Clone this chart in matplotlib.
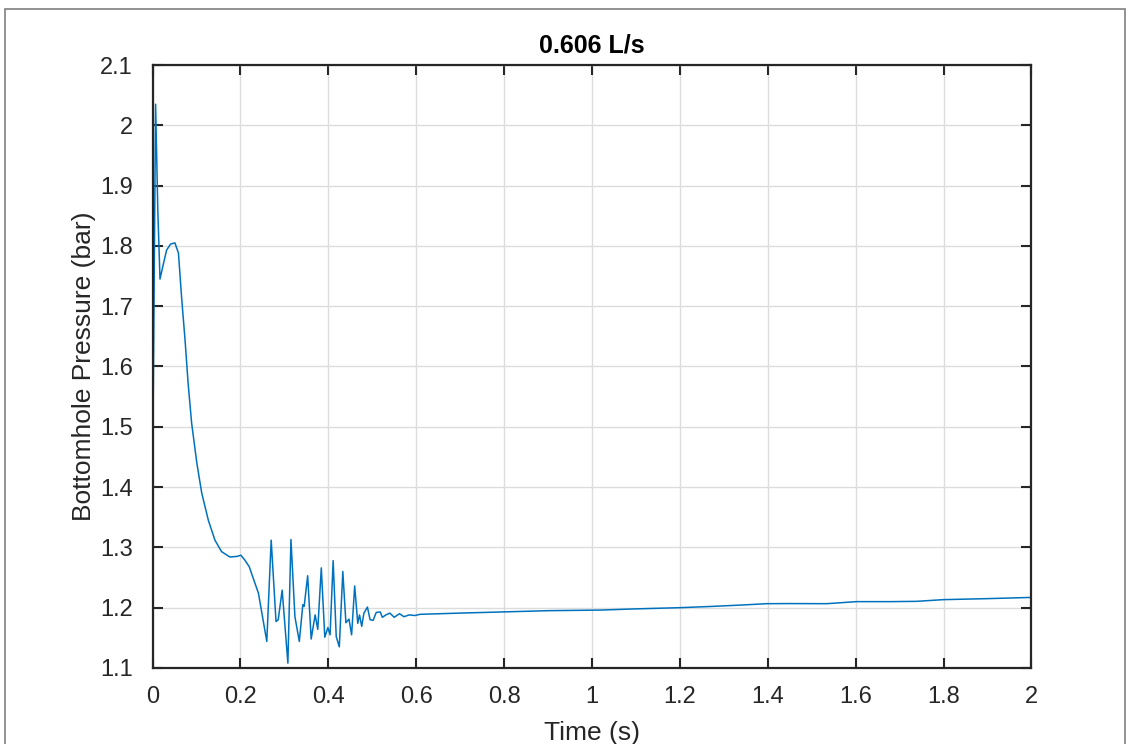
import matplotlib
matplotlib.use('Agg')
import matplotlib.pyplot as plt
from matplotlib.patches import Rectangle

# bottomhole pressure trace
time_s = [0.0, 0.0, 0.007, 0.012, 0.017, 0.025, 0.032, 0.041, 0.051, 0.059, 0.066,
          0.074, 0.081, 0.089, 0.101, 0.112, 0.127, 0.142, 0.157, 0.176, 0.192,
          0.201, 0.210, 0.220, 0.241,
          0.260, 0.270, 0.281, 0.286, 0.295, 0.308, 0.315, 0.324, 0.334, 0.342,
          0.345, 0.353, 0.361, 0.370, 0.376, 0.384, 0.392, 0.399, 0.404, 0.411,
          0.418, 0.425, 0.433, 0.440, 0.447, 0.453, 0.460, 0.467, 0.471, 0.476,
          0.481, 0.489, 0.495, 0.502, 0.509, 0.518, 0.523, 0.531, 0.540, 0.550,
          0.562, 0.572, 0.584, 0.597, 0.609, 0.70, 0.80, 0.90, 1.018, 1.10,
          1.20, 1.27, 1.344, 1.397, 1.45, 1.534, 1.602, 1.68, 1.739, 1.799,
          1.90, 2.0]
pressure_bar = [1.375, 1.40, 2.035, 1.86, 1.745, 1.771, 1.793, 1.803, 1.805, 1.788, 1.716,
                1.644, 1.572, 1.506, 1.439, 1.390, 1.345, 1.312, 1.293, 1.284, 1.285,
                1.287, 1.279, 1.268, 1.224,
                1.144, 1.312, 1.177, 1.180, 1.229, 1.108, 1.313, 1.185, 1.144, 1.205,
                1.202, 1.253, 1.148, 1.188, 1.164, 1.266, 1.151, 1.167, 1.155, 1.278,
                1.152, 1.135, 1.260, 1.175, 1.181, 1.155, 1.236, 1.174, 1.188, 1.169,
                1.191, 1.201, 1.180, 1.179, 1.192, 1.193, 1.184, 1.188, 1.191, 1.184,
                1.190, 1.185, 1.188, 1.187, 1.189, 1.191, 1.193, 1.195, 1.196, 1.198,
                1.200, 1.202, 1.2045, 1.2066, 1.2068, 1.2066, 1.210, 1.210, 1.2105, 1.2133,
                1.215, 1.217]

x_ticks = [0, 0.2, 0.4, 0.6, 0.8, 1, 1.2, 1.4, 1.6, 1.8, 2]
x_labels = ['0', '0.2', '0.4', '0.6', '0.8', '1', '1.2', '1.4', '1.6', '1.8', '2']
y_ticks = [1.1, 1.2, 1.3, 1.4, 1.5, 1.6, 1.7, 1.8, 1.9, 2.0, 2.1]
y_labels = ['1.1', '1.2', '1.3', '1.4', '1.5', '1.6', '1.7', '1.8', '1.9', '2', '2.1']

plt.rcParams['font.family'] = ['Liberation Sans', 'DejaVu Sans']

fig = plt.figure(figsize=(11.34, 7.44), dpi=100)
# grey frame round the figure
fig.patches.append(Rectangle((5 / 1134, -0.02), 1120 / 1134, 1 - 9 / 744 + 0.02,
                             transform=fig.transFigure, fill=False,
                             edgecolor='#7f7f7f', linewidth=1.2))

ax = fig.add_axes([0.1345, 0.1022, 0.7751, 0.8104])
ax.plot(time_s, pressure_bar, color='#0072BD', linewidth=1.1)

ax.set_xlim(0, 2)
ax.set_ylim(1.1, 2.1)
ax.set_xticks(x_ticks)
ax.set_xticklabels(x_labels)
ax.set_yticks(y_ticks)
ax.set_yticklabels(y_labels)
ax.tick_params(direction='in', length=7, width=1.5, top=True, right=True,
               labelsize=17, colors='#262626')
ax.tick_params(axis='x', pad=13)
ax.tick_params(axis='y', pad=14)
ax.grid(True, color='#dcdcdc', linewidth=1.0)
ax.set_axisbelow(True)
for s in ax.spines.values():
    s.set_linewidth(1.6)
    s.set_color('#262626')

ax.set_xlabel('Time (s)', fontsize=19, color='#262626', labelpad=9)
ax.set_ylabel('Bottomhole Pressure (bar)', fontsize=19, color='#262626', labelpad=3)
ax.set_title('0.606 L/s', fontsize=18, fontweight='bold', pad=9)

fig.savefig('out.png', dpi=100)
